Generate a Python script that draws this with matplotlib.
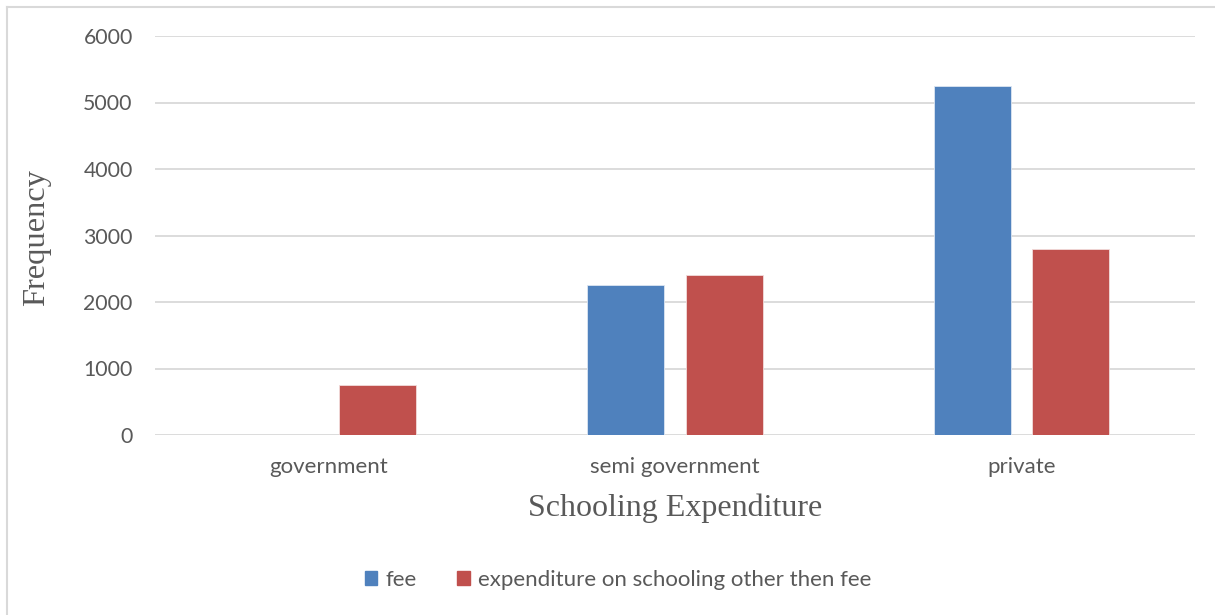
import numpy as np
import matplotlib
matplotlib.use('Agg')
import matplotlib.pyplot as plt
from matplotlib.lines import Line2D
from matplotlib.patches import Patch

# Data
categories = ["government", "semi government", "private"]
fee = [0, 2250, 5250]
other = [750, 2400, 2800]
series_names = ["fee", "expenditure on schooling other then fee"]
yticks = [0, 1000, 2000, 3000, 4000, 5000, 6000]

BLUE = "#4F81BD"
RED = "#C0504D"
GRAY_TXT = "#595959"
GRID = "#D9D9D9"

fig = plt.figure(figsize=(12.15, 6.15), dpi=100)
ax = fig.add_axes([155 / 1215, 1 - 435 / 615, (1195 - 155) / 1215, (435 - 36) / 615])

x = np.arange(len(categories))
w = 0.222
off = 0.142
ax.bar(x - off, fee, width=w, color=BLUE, edgecolor="#DCE6F2", linewidth=0.6, zorder=3)
ax.bar(x + off, other, width=w, color=RED, edgecolor="#F2DCDB", linewidth=0.6, zorder=3)

ax.set_xlim(-0.5, len(categories) - 0.5)
ax.set_ylim(0, 6000)
ax.set_yticks(yticks)
ax.set_yticklabels([str(v) for v in yticks])
ax.set_xticks(x)
ax.set_xticklabels(categories)
ax.yaxis.grid(True, color=GRID, linewidth=1.3, zorder=0)
ax.tick_params(axis="both", length=0, labelcolor=GRAY_TXT, labelfontfamily="Lato")
ax.tick_params(axis="y", pad=16, labelsize=15.3)
ax.tick_params(axis="x", pad=16, labelsize=16)
for s in ax.spines.values():
    s.set_visible(False)

fig.text(37 / 1215, 1 - 238 / 615, "Frequency", rotation=90, ha="center", va="center",
         family="Liberation Serif", fontsize=23.4, color=GRAY_TXT)
fig.text(675 / 1215, 1 - 508 / 615, "Schooling Expenditure", ha="center", va="center",
         family="Liberation Serif", fontsize=23, color=GRAY_TXT)

handles = [Patch(color=BLUE), Patch(color=RED)]
fig.legend(handles, series_names, loc="center", bbox_to_anchor=(618 / 1215, 1 - 580 / 615),
           ncol=2, frameon=False, handlelength=0.55, handleheight=0.55, handletextpad=0.36,
           columnspacing=1.85, prop={"family": "Lato", "size": 16}, labelcolor=GRAY_TXT)

# outer chart frame (left and top edges visible)
fig.add_artist(Line2D([6.5 / 1215, 6.5 / 1215], [0, 1 - 7 / 615], color=GRID, linewidth=1.5,
                      transform=fig.transFigure))
fig.add_artist(Line2D([6.5 / 1215, 1], [1 - 7 / 615, 1 - 7 / 615], color=GRID, linewidth=1.5,
                      transform=fig.transFigure))

fig.savefig("out.png", dpi=100)
